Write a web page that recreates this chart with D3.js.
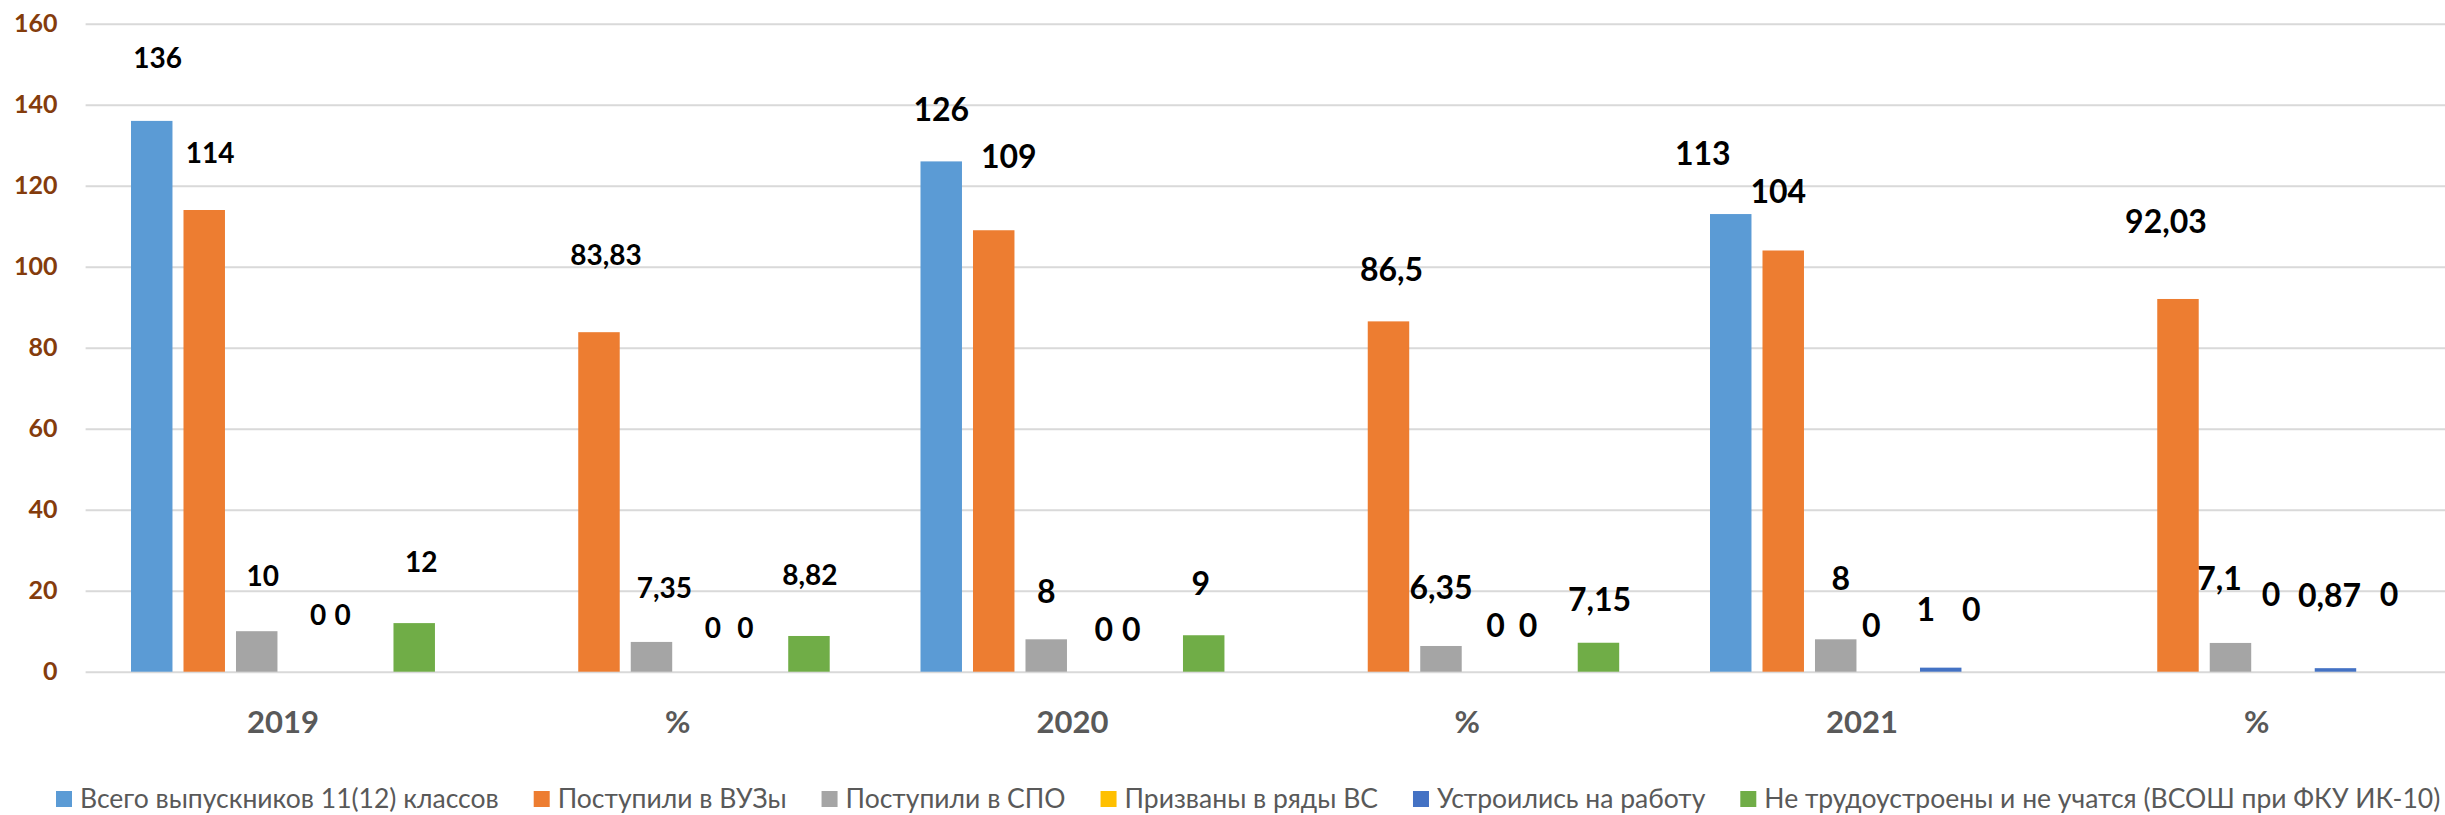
<!DOCTYPE html>
<meta charset="utf-8">
<script src="https://d3js.org/d3.v7.min.js"></script>
<style>
  body { margin: 0; background: #fff; }
  svg { display: block; }
</style>
<div id="my_dataviz"></div>
<script>

// categories on the x axis
var categories = ["2019", "%", "2020", "%", "2021", "%"];

// series names (legend order)
var seriesNames = [
  "Всего выпускников 11(12) классов",
  "Поступили в ВУЗы",
  "Поступили в СПО",
  "Призваны в ряды ВС",
  "Устроились на работу",
  "Не трудоустроены и не учатся (ВСОШ при ФКУ ИК-10)"
];

// values per series, one per category (null = no bar)
var total  = [136, null, 126, null, 113, null];
var vuz    = [114, 83.83, 109, 86.5, 104, 92.03];
var spo    = [10, 7.35, 8, 6.35, 8, 7.1];
var army   = [0, 0, 0, 0, 0, 0];
var work   = [0, 0, 0, 0, 1, 0.87];
var idle   = [12, 8.82, 9, 7.15, 0, 0];

var yTicks = [0, 20, 40, 60, 80, 100, 120, 140, 160];

var colors = ["#5B9BD5", "#ED7D31", "#A5A5A5", "#FFC000", "#4472C4", "#70AD47"];

// label nudges (dx, dy) – Excel labels were dragged around by hand
var labelNudge = [
  [[6,-11], null, [0,0], null, [-28,-9], null],
  [[6,-5], [7,-25], [15,-22], [3,0], [-5,-7], [-12,-25]],
  [[6,-3], [13,-2], [0,4], [0,-7], [5,-9], [-11,-12]],
  [[9,-5], [9,8], [5,10], [2,6], [-17,6], [-12,-25]],
  [[-19,-5], [-11,8], [-20,10], [-18,6], [-15,-6], [-6,-21]],
  [[7,-9], [1,-9], [-3,0], [1,9], [-22,-10], [1,-25]]
];
var labelSize = [28, 28, 32, 32, 32, 32];

var series = [total, vuz, spo, army, work, idle];

var W = 2445, H = 815;
var plotLeft = 85.6, plotRight = 2454.1, plotTop = 23.7, plotBottom = 671.7;

var svg = d3.select("#my_dataviz")
  .append("svg")
    .attr("width", W)
    .attr("height", H);

var x0 = d3.scaleBand()
  .domain(d3.range(categories.length))
  .range([plotLeft, plotRight]);

var x1 = d3.scaleBand()
  .domain(d3.range(series.length))
  .range([45.4, x0.bandwidth() - 45.4])
  .paddingInner(0.21);

var y = d3.scaleLinear()
  .domain([0, 160])
  .range([plotBottom, plotTop]);

// Y axis + gridlines
var yAxis = svg.append("g")
  .attr("transform", "translate(" + plotLeft + ",0)")
  .call(d3.axisLeft(y).tickValues(yTicks).tickSize(-(W - plotLeft)).tickPadding(28));
yAxis.select(".domain").remove();
yAxis.selectAll("line")
  .attr("stroke", "#D9D9D9")
  .attr("stroke-width", 2);
yAxis.selectAll("text")
  .attr("fill", "#843C0C")
  .style("font-family", "Lato, 'Open Sans', sans-serif")
  .style("font-weight", "bold")
  .style("font-size", "25px");

// X axis
var xAxis = svg.append("g")
  .attr("transform", "translate(0," + plotBottom + ")")
  .call(d3.axisBottom(x0).tickSize(0).tickPadding(39).tickFormat(function(i) { return categories[i]; }));
xAxis.select(".domain").remove();
xAxis.selectAll("text")
  .attr("fill", "#595959")
  .style("font-family", "Lato, 'Open Sans', sans-serif")
  .style("font-weight", "bold")
  .style("font-size", "31px");

// flatten values
var cells = [];
series.forEach(function(vals, s) {
  vals.forEach(function(v, c) {
    if (v !== null) cells.push({s: s, c: c, v: v});
  });
});

// bars
svg.append("g")
  .selectAll("rect")
  .data(cells)
  .enter()
  .append("rect")
    .attr("x", function(d) { return x0(d.c) + x1(d.s); })
    .attr("y", function(d) { return y(d.v); })
    .attr("width", x1.bandwidth())
    .attr("height", function(d) { return y(0) - y(d.v); })
    .attr("fill", function(d) { return colors[d.s]; });

// data labels
svg.append("g")
  .selectAll("text")
  .data(cells)
  .enter()
  .append("text")
    .attr("x", function(d) { return x0(d.c) + x1(d.s) + x1.bandwidth() / 2 + labelNudge[d.s][d.c][0]; })
    .attr("y", function(d) { return y(d.v) - 52 + labelNudge[d.s][d.c][1]; })
    .attr("dy", "0.36em")
    .style("text-anchor", "middle")
    .style("font-family", "Lato, 'Open Sans', sans-serif")
    .style("font-weight", "bold")
    .style("font-size", function(d) { return labelSize[d.c] + "px"; })
    .attr("fill", "#000")
    .text(function(d) { return String(d.v).replace(".", ","); });

// legend: fit to the width used in the original
var legend = svg.append("g");
var items = legend.selectAll("g")
  .data(seriesNames)
  .enter()
  .append("g");
items.append("rect")
  .attr("width", 16)
  .attr("height", 16)
  .attr("y", -8)
  .attr("fill", function(d, i) { return colors[i]; });
var ltext = items.append("text")
  .attr("x", 24)
  .attr("dy", "0.35em")
  .attr("fill", "#595959")
  .style("font-family", "Lato, 'Open Sans', sans-serif")
  .style("font-size", "24px")
  .text(function(d) { return d; });

var targetWidth = 2441 - 56, gap = 35;
var natural = 0;
ltext.each(function() { natural += this.getComputedTextLength(); });
var fixed = seriesNames.length * 24 + (seriesNames.length - 1) * gap;
var fs = 24 * (targetWidth - fixed) / natural;
ltext.style("font-size", fs + "px");

var cx = 56;
items.each(function() {
  var t = d3.select(this).select("text").node().getComputedTextLength();
  d3.select(this).attr("transform", "translate(" + cx + ",799)");
  cx += 24 + t + gap;
});

</script>
